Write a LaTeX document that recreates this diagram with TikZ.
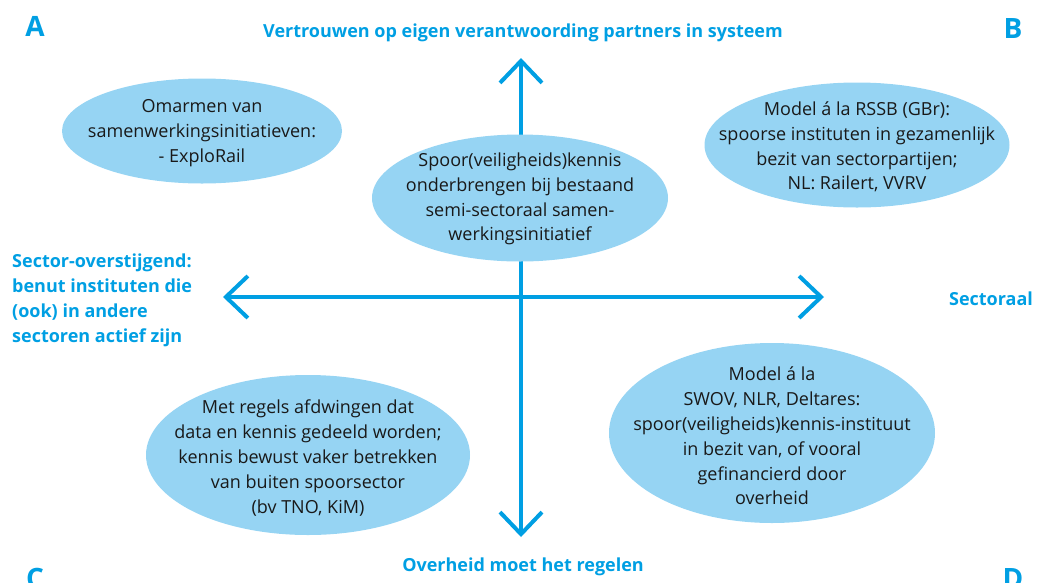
\documentclass[tikz,border=0pt]{standalone}
\usepackage{fontspec}
\setmainfont{Open Sans}
\usetikzlibrary{shapes.geometric,arrows.meta}
\definecolor{axisblue}{RGB}{0,159,227}
\definecolor{bubble}{RGB}{150,212,243}
\definecolor{ink}{RGB}{25,25,25}
\begin{document}
\begin{tikzpicture}[x=1pt,y=-1pt,
  bubble/.style={ellipse,fill=bubble,draw=none,inner sep=0pt},
  bubbletext/.style={inner sep=0pt,text=ink,align=center,
    font=\fontsize{18}{24.8}\selectfont},
  axislabel/.style={text=axisblue,font=\bfseries\fontsize{18}{25}\selectfont,inner sep=0pt},
  corner/.style={text=axisblue,font=\bfseries\fontsize{28}{30}\selectfont,inner sep=0pt,anchor=base},
  axis/.style={draw=axisblue,line width=4pt,
    {Straight Barb[length=22pt,width=42pt,line width=4pt]}-{Straight Barb[length=22pt,width=42pt,line width=4pt]}}]
\useasboundingbox (0,0) rectangle (1037,582);

% quadrant letters
\node[corner] (qa) at (35,36) {A};
\node[corner] (qb) at (1013,38) {B};
\node[corner] (qc) at (35,588) {C};
\node[corner] (qd) at (1013,588) {D};

% axes
\coordinate (top) at (521,58);
\coordinate (bottom) at (521,537);
\coordinate (left) at (223,297);
\coordinate (right) at (824,297);
\draw[axis] (bottom) -- (top);
\draw[axis] (left) -- (right);

% axis labels
\node[axislabel] (ltop) at (523,33) {Vertrouwen op eigen verantwoording partners in systeem};
\node[axislabel] (lbottom) at (523,567) {Overheid moet het regelen};
\node[axislabel] (lright) at (991,299) {Sectoraal};
\node[axislabel,align=left,anchor=west] (lleft) at (12,300)
  {Sector-overstijgend:\\benut instituten die\\(ook) in andere\\sectoren actief zijn};

% positions in the quadrants: fixed-size ellipses with their texts on top
\node[bubble,minimum width=280pt,minimum height=105pt] (ea) at (202,131) {};
\node[bubbletext] (ta) at ([yshift=-2pt]ea.center)
  {Omarmen van\\samenwerkingsinitiatieven:\\- ExploRail};
\node[bubble,minimum width=296pt,minimum height=127pt] (ec) at (520,198) {};
\node[bubbletext] (tc) at ([yshift=-1pt]ec.center)
  {Spoor(veiligheids)kennis\\onderbrengen bij bestaand\\semi-sectoraal samen-\\werkingsinitiatief};
\node[bubble,minimum width=305pt,minimum height=125pt] (eb) at (857,145) {};
\node[bubbletext] (tb) at ([yshift=-2pt]eb.center)
  {Model á la RSSB (GBr):\\spoorse instituten in gezamenlijk\\bezit van sectorpartijen;\\NL: Railert, VVRV};
\node[bubble,minimum width=324pt,minimum height=160pt] (ecc) at (308,455) {};
\node[bubbletext] (tcc) at ([yshift=-3pt]ecc.center)
  {Met regels afdwingen dat\\data en kennis gedeeld worden;\\kennis bewust vaker betrekken\\van buiten spoorsector\\(bv TNO, KiM)};
\node[bubble,minimum width=326pt,minimum height=180pt] (ed) at (772,433) {};
\node[bubbletext] (td) at ([yshift=-3pt]ed.center)
  {Model á la\\SWOV, NLR, Deltares:\\spoor(veiligheids)kennis-instituut\\in bezit van, of vooral\\gefinancierd door\\overheid};
\end{tikzpicture}
\end{document}
